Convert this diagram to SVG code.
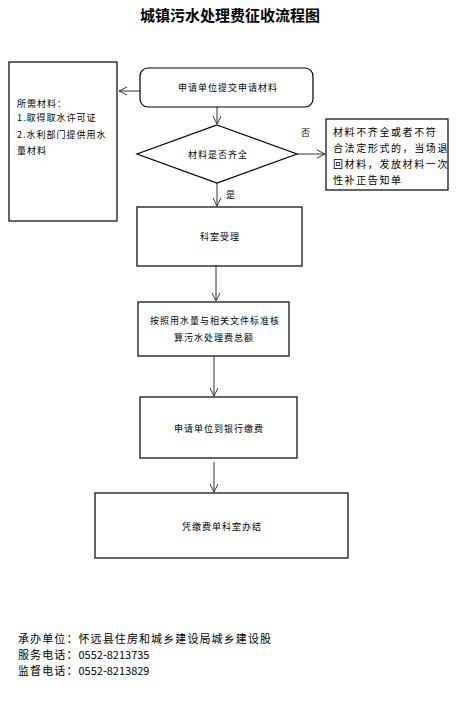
<svg xmlns="http://www.w3.org/2000/svg" width="458" height="703" viewBox="0 0 458 703">
<defs>
<marker id="arr" markerWidth="10" markerHeight="10" refX="9" refY="5" orient="auto" markerUnits="userSpaceOnUse">
<path d="M1,1 L9,5 L1,9" fill="none" stroke="#333" stroke-width="1"/>
</marker>
<style>
.box{fill:#fff;stroke:#000;stroke-width:1.2}
.t{font-family:"Noto Sans CJK SC","Noto Sans",sans-serif;font-size:9px;letter-spacing:1px;fill:#000}
.c{text-anchor:middle}
.r{font-family:"Noto Sans CJK SC","Noto Sans",sans-serif;font-size:10px;letter-spacing:1.6px;fill:#000}
.f{font-family:"Noto Sans CJK SC","Noto Sans",sans-serif;font-size:11px;fill:#000}
.cj{letter-spacing:1.1px}
.ln{fill:none;stroke:#333;stroke-width:1;marker-end:url(#arr)}
</style>
</defs>
<rect width="458" height="703" fill="#fff"/>
<text x="230" y="21" text-anchor="middle" font-family="'Noto Sans CJK SC',sans-serif" font-size="15" font-weight="bold">城镇污水处理费征收流程图</text>

<g id="connectors">
<line class="ln" x1="140" y1="91" x2="119" y2="91"/>
<line class="ln" x1="217" y1="107" x2="217" y2="124"/>
<line class="ln" x1="217" y1="183" x2="217" y2="206"/>
<line class="ln" x1="297" y1="154" x2="325" y2="154"/>
<line class="ln" x1="216" y1="266" x2="216" y2="301"/>
<line class="ln" x1="214" y1="356" x2="214" y2="396"/>
<line class="ln" x1="214" y1="462" x2="214" y2="492"/>
<text x="226" y="198" class="t">是</text>
<text x="301" y="136" class="t">否</text>
</g>

<g id="materials">
<rect class="box" x="9" y="62" width="108" height="159"/>
<text class="t" x="17" y="107" letter-spacing="0.5">所需材料：</text>
<text class="t" x="17" y="121" letter-spacing="0.8">1.取得取水许可证</text>
<text class="t" x="17" y="138" letter-spacing="0.8">2.水利部门提供用水</text>
<text class="t" x="17" y="154" letter-spacing="0.8">量材料</text>
</g>

<g id="submit">
<rect class="box" x="140" y="68" width="173" height="39" rx="8"/>
<text class="t c" x="228" y="91">申请单位提交申请材料</text>
</g>

<g id="check">
<polygon class="box" points="217,125 297,154 217,183 137,154"/>
<text class="t c" x="218" y="158">材料是否齐全</text>
</g>

<g id="reject">
<rect class="box" x="326" y="119" width="122" height="71"/>
<text class="r" x="333" y="136">材料不齐全或者不符</text>
<text class="r" x="333" y="152">合法定形式的，当场退</text>
<text class="r" x="333" y="168">回材料，发放材料一次</text>
<text class="r" x="333" y="184">性补正告知单</text>
</g>

<g id="accept">
<rect class="box" x="137" y="207" width="165" height="59"/>
<text class="t c" x="220" y="240">科室受理</text>
</g>

<g id="calc">
<rect class="box" x="138" y="302" width="151" height="54"/>
<text class="t c" x="215" y="324">按照用水量与相关文件标准核</text>
<text class="t c" x="214" y="341">算污水处理费总额</text>
</g>

<g id="pay">
<rect class="box" x="140" y="397" width="157" height="61"/>
<text class="t c" x="219" y="432">申请单位到银行缴费</text>
</g>

<g id="finish">
<rect class="box" x="95" y="493" width="253" height="65"/>
<text class="t c" x="222" y="530">凭缴费单科室办结</text>
</g>

<g id="footer">
<text class="f cj" x="18" y="643">承办单位：怀远县住房和城乡建设局城乡建设股</text>
<text class="f" x="18" y="659"><tspan class="cj">服务电话：</tspan>0552-8213735</text>
<text class="f" x="18" y="675"><tspan class="cj">监督电话：</tspan>0552-8213829</text>
</g>
</svg>
